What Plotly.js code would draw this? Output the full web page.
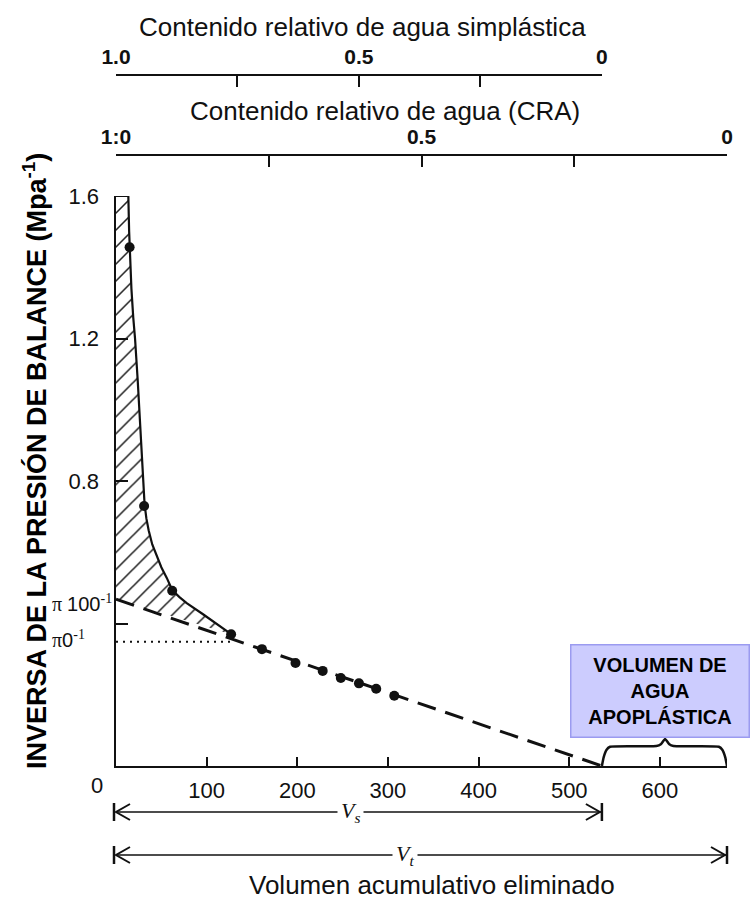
<!DOCTYPE html>
<html>
<head>
<meta charset="utf-8">
<script src="https://cdn.plot.ly/plotly-3.0.1.min.js"></script>
<style>html,body{margin:0;padding:0;background:#fff;}#chart{width:750px;height:900px;}</style>
</head>
<body>
<div id="chart"></div>
<script>
// ---- data ----
const volPoints = [15, 31, 62, 127, 161, 198, 228, 248, 268, 287, 307];
const invPoints = [1.456, 0.730, 0.492, 0.370, 0.328, 0.289, 0.267, 0.247, 0.232, 0.217, 0.197];
const curveVol = [0, 13.6, 14.5, 15.4, 17, 19, 21, 24, 26.5, 28.5, 30, 31.5, 33.5, 36, 40, 45, 50, 56, 62, 70, 78, 96, 114.7, 127];
const curveInv = [1.6, 1.6, 1.50, 1.42, 1.34, 1.26, 1.20, 1.08, 0.963, 0.87, 0.80, 0.735, 0.695, 0.662, 0.622, 0.588, 0.558, 0.528, 0.494, 0.474, 0.457, 0.426, 0.392, 0.370];
const pi100Inv = 0.468;
const pi0Inv = 0.349;
const volTLP = 129;
const volVs = 536;
const volVt = 674;
const xTickVals = [100, 200, 300, 400, 500, 600];
const yTickVals = [0.8, 1.2, 1.6];
const yMinorTicks = [0.4];
const rwcTickVals = [1, 0.5, 0];
const rwcMinorTicks = [0.75, 0.25];
const symTickText = ['1.0', '0.5', '0'];
const craTickText = ['1:0', '0.5', '0'];
const braceVol = [536, 538, 541, 545, 596, 601, 605.7, 610.4, 615, 665, 669, 672, 674];
const braceInv = [0, 0.025, 0.045, 0.054, 0.056, 0.061, 0.076, 0.061, 0.056, 0.054, 0.045, 0.025, 0];

// ---- layout geometry ----
const W = 750, H = 900;
const mL = 116, mR = 23, mT = 10, mB = 134;
const PW = W - mL - mR, PH = H - mT - mB;
const pxX = p => (p - mL) / PW;
const pxY = p => (mT + PH - p) / PH;
const dX = p => p / PW;
const dY = p => p / PH;

const sans = 'Liberation Sans, Arial, Helvetica, sans-serif';
const serif = 'Liberation Serif, Times New Roman, serif';
const ink = '#111';

const traces = [
  { // hatched region between curve, y axis and the dashed line
    x: curveVol.concat([0]), y: curveInv.concat([pi100Inv]),
    mode: 'lines', fill: 'toself', line: {width: 0, color: ink},
    fillcolor: 'rgba(255,255,255,0)',
    fillpattern: {shape: '/', size: 12, solidity: 0.13, fgcolor: '#222', bgcolor: 'rgba(255,255,255,0)'},
    hoverinfo: 'skip', showlegend: false
  },
  { // dotted pi0 line
    x: [0, volTLP], y: [pi0Inv, pi0Inv], mode: 'lines',
    line: {color: ink, width: 2, dash: '2px,5px'}, hoverinfo: 'skip', showlegend: false
  },
  { // dashed linear extrapolation
    x: [0, volVs], y: [pi100Inv, 0], mode: 'lines',
    line: {color: ink, width: 3, dash: '19px,10px'}, hoverinfo: 'skip', showlegend: false
  },
  { // solid curve
    x: curveVol, y: curveInv, mode: 'lines',
    line: {color: ink, width: 2.2}, hoverinfo: 'skip', showlegend: false
  },
  { // measured points
    x: volPoints, y: invPoints, mode: 'markers',
    marker: {color: ink, size: 10}, showlegend: false
  },
  { // brace over apoplastic volume
    x: braceVol, y: braceInv, mode: 'lines',
    line: {color: ink, width: 2.5, shape: 'spline', smoothing: 0.5}, hoverinfo: 'skip', showlegend: false
  },
  {x: [0.5], y: [-1], xaxis: 'x2', yaxis: 'y', mode: 'markers', hoverinfo: 'skip', showlegend: false},
  {x: [0.5], y: [-1], xaxis: 'x3', yaxis: 'y', mode: 'markers', hoverinfo: 'skip', showlegend: false}
];

const topAxis = (pos, dom, txt) => ({
  anchor: 'free', position: pos, side: 'top', domain: dom, range: [1, 0],
  tickmode: 'array', tickvals: rwcTickVals, ticktext: txt,
  ticks: 'inside', ticklen: 11, tickwidth: 2, tickcolor: ink,
  minor: {tickmode: 'array', tickvals: rwcMinorTicks, ticks: 'inside', ticklen: 11, tickwidth: 2, tickcolor: ink, showgrid: false},
  showline: true, linewidth: 2, linecolor: ink,
  showgrid: false, zeroline: false, ticklabelstandoff: 2,
  tickfont: {family: sans, size: 21, color: ink, weight: 'bold'}
});

function arrowShapes(xEnd, py) {
  const y = pxY(py);
  const s = {type: 'path', xref: 'paper', yref: 'paper', line: {color: ink, width: 2}};
  return [
    {type: 'line', xref: 'paper', yref: 'paper', x0: dX(1), x1: xEnd - dX(1), y0: y, y1: y, line: {color: ink, width: 1.5}},
    {type: 'line', xref: 'paper', yref: 'paper', x0: -dX(2), x1: -dX(2), y0: y - dY(9), y1: y + dY(9), line: {color: ink, width: 2.5}},
    Object.assign({}, s, {path: `M ${dX(14)},${y + dY(8)} L ${dX(0)},${y} L ${dX(14)},${y - dY(8)}`}),
    {type: 'line', xref: 'paper', yref: 'paper', x0: xEnd, x1: xEnd, y0: y - dY(9), y1: y + dY(9), line: {color: ink, width: 2.5}},
    Object.assign({}, s, {path: `M ${xEnd - dX(16)},${y + dY(8)} L ${xEnd - dX(2)},${y} L ${xEnd - dX(16)},${y - dY(8)}`})
  ];
}

const ann = (txt, px, py, font, extra) => Object.assign({
  text: txt, xref: 'paper', yref: 'paper', x: pxX(px), y: pxY(py),
  xanchor: 'center', yanchor: 'middle', showarrow: false, font: font
}, extra || {});

const layout = {
  width: W, height: H,
  margin: {l: mL, r: mR, t: mT, b: mB, pad: 0},
  paper_bgcolor: '#fff', plot_bgcolor: 'rgba(0,0,0,0)',
  showlegend: false,
  xaxis: {
    range: [0, volVt], domain: [0, 1], anchor: 'y',
    tickmode: 'array', tickvals: xTickVals,
    ticks: 'inside', ticklen: 9, tickwidth: 2, tickcolor: ink,
    showline: true, linewidth: 2, linecolor: ink,
    showgrid: false, zeroline: false, ticklabelstandoff: 4,
    tickfont: {family: sans, size: 22, color: ink}
  },
  yaxis: {
    range: [0, 1.6], domain: [0, 570 / PH], anchor: 'x',
    tickmode: 'array', tickvals: yTickVals,
    ticks: 'inside', ticklen: 12, tickwidth: 2, tickcolor: ink,
    minor: {tickmode: 'array', tickvals: yMinorTicks, ticks: 'inside', ticklen: 12, tickwidth: 2, tickcolor: ink, showgrid: false},
    showline: true, linewidth: 2.5, linecolor: ink,
    showgrid: false, zeroline: false, ticklabelstandoff: 10,
    tickfont: {family: sans, size: 22, color: ink}
  },
  xaxis2: topAxis(pxY(75), [0, volVs / volVt], symTickText),
  xaxis3: topAxis(pxY(155), [0, 1], craTickText),
  shapes: arrowShapes(volVs / volVt, 812).concat(arrowShapes(1, 855)),
  annotations: [
    ann('Contenido relativo de agua simplástica', 362, 27, {family: sans, size: 26, color: ink}),
    ann('Contenido relativo de agua (CRA)', 385, 111, {family: sans, size: 26, color: ink}),
    ann('Volumen acumulativo eliminado', 432, 885, {family: sans, size: 26, color: ink}),
    ann('<b>INVERSA DE LA PRESIÓN DE BALANCE (Mpa<sup>-1</sup>)</b>', 35, 461, {family: sans, size: 27, color: '#000'}, {textangle: -90}),
    ann('0', 97, 785, {family: sans, size: 22, color: ink}),
    ann('π <span style="font-family:Liberation Sans">100</span><sup>-1</sup>', 50, 603, {family: serif, size: 20, color: ink}, {xanchor: 'left'}),
    ann('π<span style="font-family:Liberation Sans">0</span><sup>-1</sup>', 50, 639, {family: serif, size: 20, color: ink}, {xanchor: 'left'}),
    ann('<i>V<sub>s</sub></i>', 350, 812, {family: serif, size: 22, color: ink}, {bgcolor: '#fff', borderpad: 3}),
    ann('<i>V<sub>t</sub></i>', 405, 855, {family: serif, size: 22, color: ink}, {bgcolor: '#fff', borderpad: 3}),
    ann('<b>VOLUMEN DE<br>AGUA<br>APOPLÁSTICA</b>', 659.5, 690.5, {family: sans, size: 20, color: '#000'},
        {width: 175, height: 89, bgcolor: '#ccccfe', bordercolor: '#9b9bf0', borderwidth: 1.5, borderpad: 1})
  ]
};

Plotly.newPlot('chart', traces, layout, {displayModeBar: false, staticPlot: true});
</script>
</body>
</html>
